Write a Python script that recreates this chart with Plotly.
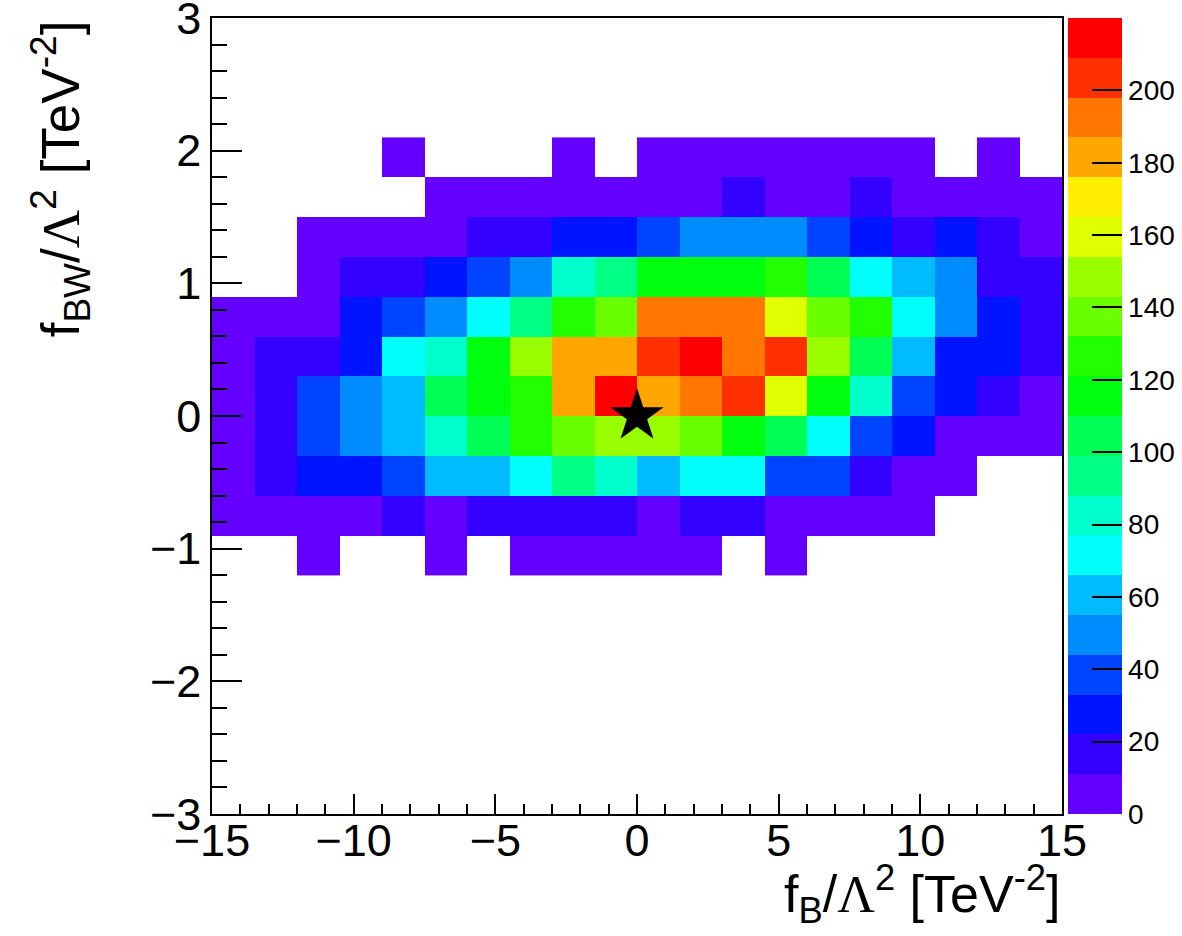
import plotly.graph_objects as go

# ---- data ----
x_edges = [-15 + 1.5 * i for i in range(21)]
y_rows = [-1.2, -0.9, -0.6, -0.3, 0.0, 0.3, 0.6, 0.9, 1.2, 1.5, 1.8]  # lower edges of filled rows
N = None
row_m1p2 = [N, N, 5, N, N, 5, N, 5, 5, 5, 5, 5, N, 5, N, N, N, N, N, N]
row_m0p9 = [5, 5, 5, 5, 16, 5, 16, 16, 16, 16, 5, 16, 16, 5, 5, 5, 5, N, N, N]
row_m0p6 = [5, 16, 27, 27, 38, 60, 60, 71, 93, 82, 60, 71, 71, 38, 38, 16, 5, 5, N, N]
row_m0p3 = [5, 16, 38, 49, 60, 82, 104, 126, 137, 148, 148, 137, 115, 104, 71, 38, 27, 5, 5, 5]
row_p0p0 = [5, 16, 38, 49, 60, 104, 115, 126, 181, 220, 181, 192, 203, 159, 115, 82, 38, 27, 16, 5]
row_p0p3 = [5, 16, 16, 27, 71, 82, 115, 148, 181, 181, 203, 214, 192, 203, 148, 104, 60, 27, 27, 16]
row_p0p6 = [5, 5, 5, 27, 38, 49, 71, 93, 126, 137, 192, 192, 192, 159, 137, 126, 71, 49, 27, 16]
row_p0p9 = [N, N, 5, 16, 16, 27, 38, 49, 82, 93, 115, 115, 115, 126, 104, 71, 60, 49, 16, 16]
row_p1p2 = [N, N, 5, 5, 5, 5, 16, 16, 27, 27, 38, 49, 49, 49, 38, 27, 16, 27, 16, 5]
row_p1p5 = [N, N, N, N, N, 5, 5, 5, 5, 5, 5, 5, 16, 5, 5, 16, 5, 5, 5, 5]
row_p1p8 = [N, N, N, N, 5, N, N, N, 5, N, 5, 5, 5, 5, 5, 5, 5, N, 5, N]
z_max = 220
cbar_ticks = [0, 20, 40, 60, 80, 100, 120, 140, 160, 180, 200]
x_ticks = [-15, -10, -5, 0, 5, 10, 15]
y_ticks = [-3, -2, -1, 0, 1, 2, 3]
star_x = [0.0]
star_y = [0.0]

# ---- ROOT "pretty" palette, 20 contour levels ----
palette = ["#6300ff", "#3300ff", "#0014ff", "#0044ff", "#008bff", "#00bbff",
           "#00fffb", "#00ffcc", "#00ff85", "#00ff55", "#00ff0e", "#22ff00",
           "#69ff00", "#99ff00", "#e0ff00", "#ffee00", "#ffa700", "#ff7700",
           "#ff3000", "#ff0000"]
nb = len(palette)
colorscale = []
for k, c in enumerate(palette):
    colorscale.append([k / nb, c])
    colorscale.append([(k + 1) / nb, c])

x_centers = [(x_edges[i] + x_edges[i + 1]) / 2 for i in range(len(x_edges) - 1)]
y_centers = [y + 0.15 for y in y_rows]
z = [row_m1p2, row_m0p9, row_m0p6, row_m0p3, row_p0p0, row_p0p3,
     row_p0p6, row_p0p9, row_p1p2, row_p1p5, row_p1p8]

FONT = "Liberation Sans, Arial, Helvetica, sans-serif"

fig = go.Figure()
fig.add_trace(go.Heatmap(
    x=x_centers, y=y_centers, z=z, zmin=0, zmax=z_max,
    colorscale=colorscale, hoverongaps=False,
    colorbar=dict(
        x=1.0071, xanchor="left", xpad=0, y=0.5, yanchor="middle", ypad=0,
        len=1.0, lenmode="fraction", thickness=54, thicknessmode="pixels",
        outlinewidth=0, tickvals=cbar_ticks, ticks="inside", ticklen=30,
        tickwidth=1.5, tickcolor="black",
        tickfont=dict(family=FONT, size=28, color="black"),
    ),
))
fig.add_trace(go.Scatter(
    x=star_x, y=star_y, mode="markers",
    marker=dict(symbol="star", size=40, color="black"),
    showlegend=False, hoverinfo="skip",
))

axis_common = dict(
    showgrid=False, zeroline=False, showline=True, linecolor="black",
    linewidth=1.5, mirror=True, ticks="inside", tickcolor="black", tickwidth=1.5,
    tickfont=dict(family=FONT, size=45, color="black"),
    ticklabeloverflow="allow",
)
fig.update_xaxes(range=[-15.0001, 15.0001], tickvals=x_ticks, ticklen=20,
                 ticklabelstandoff=-14,
                 minor=dict(dtick=1, ticklen=10, ticks="inside", tickcolor="black",
                            tickwidth=1.5, showgrid=False),
                 **axis_common)
fig.update_yaxes(range=[-3.0001, 3.0001], tickvals=y_ticks, ticklen=30,
                 minor=dict(dtick=0.2, ticklen=15, ticks="inside", tickcolor="black",
                            tickwidth=1.5, showgrid=False),
                 **axis_common)

lam = '<span style="font-family:Liberation Serif, Times New Roman, serif">Λ</span>'
fig.add_annotation(
    text="f<sub>B</sub>/" + lam + "<sup>2</sup> [TeV<sup>-2</sup>]",
    xref="paper", yref="paper", x=1.0, y=-0.051, xanchor="right", yanchor="top",
    showarrow=False, font=dict(family=FONT, size=52, color="black"),
)
fig.add_annotation(
    text="f<sub>BW</sub>/" + lam + "<sup>2</sup> [TeV<sup>-2</sup>]",
    xref="paper", yref="paper", x=-0.179, y=1.0, xanchor="center", yanchor="top",
    textangle=-90, showarrow=False, font=dict(family=FONT, size=53, color="black"),
)

fig.update_layout(
    width=1182, height=936,
    margin=dict(l=212, r=120, t=18, b=122, autoexpand=False),
    paper_bgcolor="white", plot_bgcolor="white",
    showlegend=False,
)
fig.write_html("out.html")
